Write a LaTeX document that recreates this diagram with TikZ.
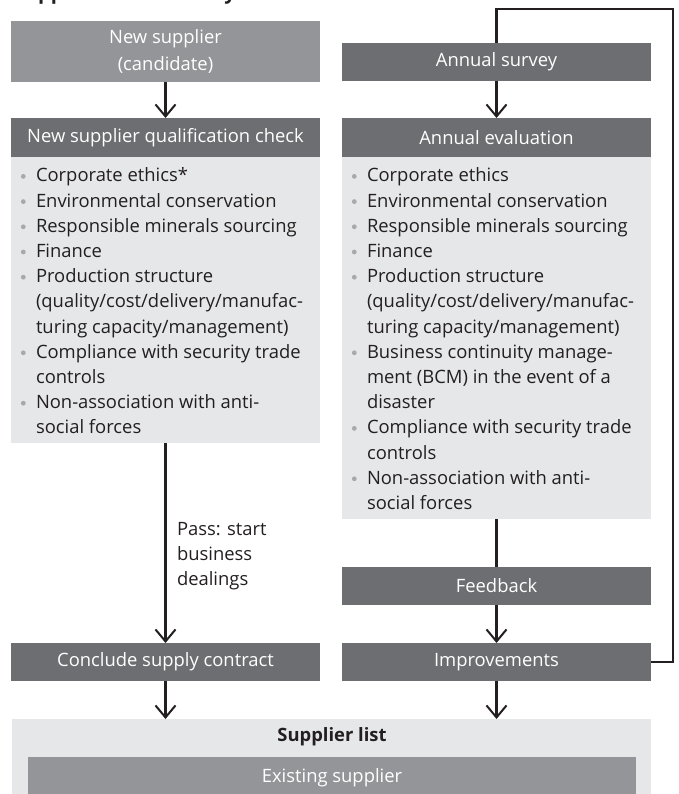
\documentclass[tikz,border=0pt]{standalone}
\usepackage{fontspec}
\setmainfont{Open Sans}
\usetikzlibrary{arrows.meta}

\definecolor{boxmid}{HTML}{939598}
\definecolor{boxdark}{HTML}{6D6E71}
\definecolor{panelbg}{HTML}{E6E7E8}
\definecolor{inkdark}{HTML}{231F20}
\definecolor{dotgray}{HTML}{A7A9AC}

\newcommand\bodyfs{\fontsize{18.4}{25.2}\selectfont}

\begin{document}
\begin{tikzpicture}[x=1pt,y=-1pt,
  every node/.style={inner sep=0pt, outer sep=0pt},
  basebox/.style={rectangle, minimum width=309pt, text=white, align=center, font=\bodyfs},
  midbox/.style={basebox, fill=boxmid},
  darkbox/.style={basebox, fill=boxdark},
  panel/.style={rectangle, fill=panelbg, minimum width=309pt},
  bodytext/.style={anchor=base west, text=inkdark, font=\bodyfs},
  flow/.style={draw=inkdark, line width=2.1pt,
    -{Straight Barb[length=12pt,width=20pt,line width=2pt]}},
  link/.style={draw=inkdark, line width=2.1pt}
]
\useasboundingbox (0,0) rectangle (678,794);

% heading, only its lowest part lies inside the page
\begin{scope}
  \clip (0,0) rectangle (678,794);
  \node[anchor=base west, text=inkdark, font=\bfseries\fontsize{20}{24}\selectfont]
    (title) at (14,-0.8) {Supplier Evaluation System};
\end{scope}

% ---- left column: new suppliers ----
\node[midbox, minimum height=61pt] (cand) at (165.5,51.5) {New supplier\\[1pt](candidate)};
\node[darkbox, minimum height=39pt] (qualh) at (165.5,137.5) {New supplier qualification check};
\node[panel, minimum height=286pt] (qualb) at (165.5,300) {};
\node[bodytext] (quallist) at (36,182) {\begin{tabular}[t]{@{}l@{}}
Corporate ethics*\\
Environmental conservation\\
Responsible minerals sourcing\\
Finance\\
Production structure\\
(quality/cost/delivery/manufac-\\
turing capacity/management)\\
Compliance with security trade\\
controls\\
Non-association with anti-\\
social forces
\end{tabular}};
\foreach \i in {0,1,2,3,4,7,9}
  \fill[dotgray] (23.3,182+25.2*\i-5.6) circle (2.4pt);

\node[darkbox, minimum height=38pt] (contract) at (165.5,662) {Conclude supply contract};

% ---- right column: existing suppliers ----
\node[darkbox, minimum height=38pt] (survey) at (496.5,62) {Annual survey};
\node[darkbox, minimum height=39pt] (evalh) at (496.5,137.5) {Annual evaluation};
\node[panel, minimum height=362pt] (evalb) at (496.5,338) {};
\node[bodytext] (evallist) at (367,182) {\begin{tabular}[t]{@{}l@{}}
Corporate ethics\\
Environmental conservation\\
Responsible minerals sourcing\\
Finance\\
Production structure\\
(quality/cost/delivery/manufac-\\
turing capacity/management)\\
Business continuity manage-\\
ment (BCM) in the event of a\\
disaster\\
Compliance with security trade\\
controls\\
Non-association with anti-\\
social forces
\end{tabular}};
\foreach \i in {0,1,2,3,4,7,10,12}
  \fill[dotgray] (354.3,182+25.2*\i-5.6) circle (2.4pt);

\node[darkbox, minimum height=38pt] (feedback) at (496.5,586) {Feedback};
\node[darkbox, minimum height=38pt] (impr) at (496.5,662) {Improvements};

% ---- supplier list ----
\node[rectangle, fill=panelbg, minimum width=639pt, minimum height=81pt] (listpanel) at (331.5,759.5) {};
\node[text=inkdark, font=\bfseries\bodyfs] (listtitle) at (332,737) {Supplier list};
\node[midbox, minimum width=608pt, minimum height=42pt] (existing) at (332,778) {Existing supplier};

% ---- connectors ----
\draw[flow] (cand) -- (qualh);
\draw[flow] (qualb) -- (contract);
\node[bodytext] (passlbl) at (177,535) {\begin{tabular}[t]{@{}l@{}}
Pass: start\\ business\\ dealings\end{tabular}};
\draw[flow] (contract) -- (contract.south |- listpanel.north);

\draw[flow] (survey) -- (evalh);
\draw[link] (evalb) -- (feedback);
\draw[flow] (feedback) -- (impr);
\draw[flow] (impr) -- (impr.south |- listpanel.north);

\coordinate (loopcorner) at (673,9);
\draw[link] (impr.east) -| (loopcorner) -| (survey.north);

\end{tikzpicture}
\end{document}
